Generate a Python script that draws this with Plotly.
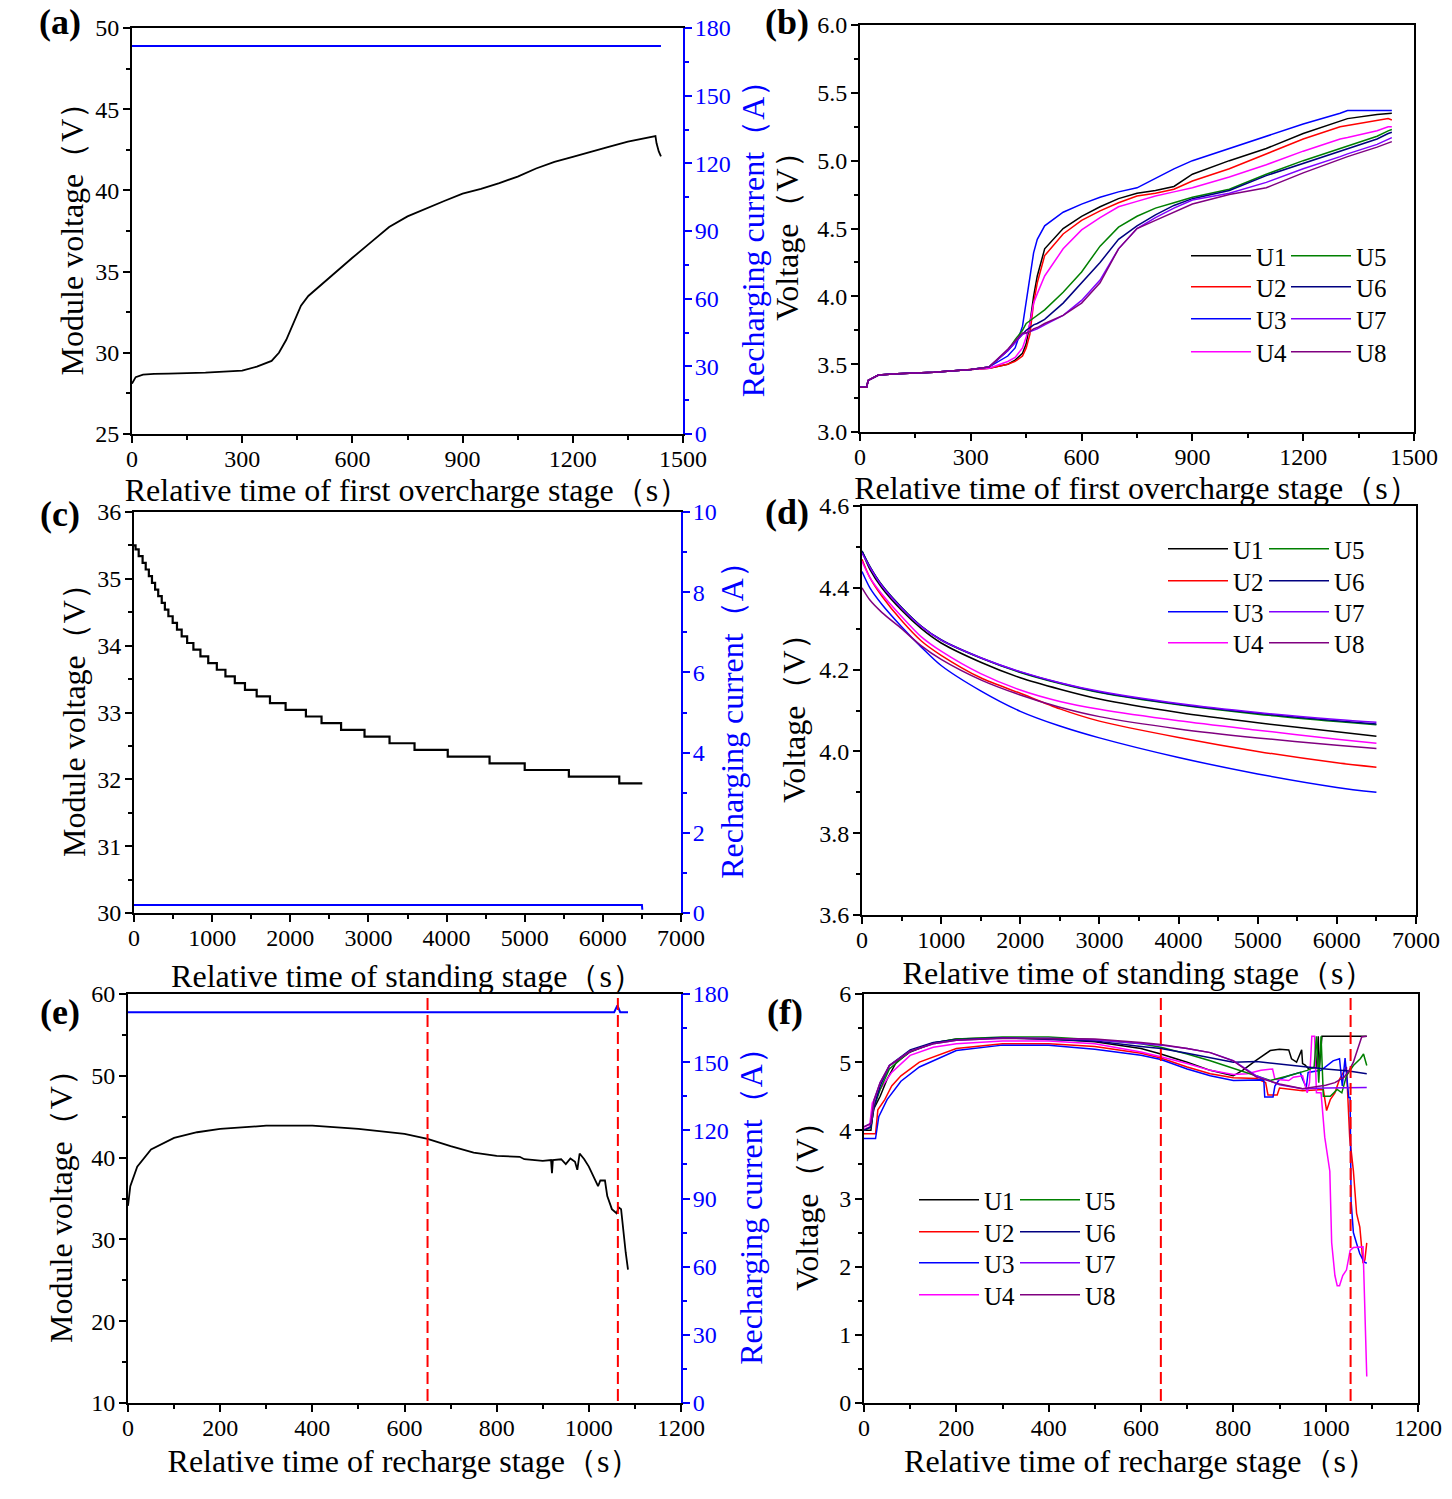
import plotly.graph_objects as go

W, H = 1452, 1499
SERIF = "Liberation Serif"

# ---------------- data ----------------
cell_names = ["U1", "U2", "U3", "U4", "U5", "U6", "U7", "U8"]
cell_colors = ["#000000", "#FF0000", "#0000FF", "#FF00FF", "#008000", "#000080", "#8000FF", "#800080"]

# (a) first overcharge stage - module
a_time = [0, 10, 30, 60, 100, 200, 300, 340, 380, 400, 420, 440, 460, 480, 520, 560, 600, 650, 700, 750,
          800, 850, 900, 950, 1000, 1050, 1100, 1150, 1200, 1250, 1300, 1350, 1400, 1425, 1428, 1434, 1440]
a_voltage = [28.1, 28.5, 28.65, 28.7, 28.72, 28.78, 28.9, 29.15, 29.5, 30.0, 30.8, 31.9, 32.9, 33.5, 34.3, 35.1,
             35.85, 36.8, 37.75, 38.4, 38.9, 39.35, 39.8, 40.1, 40.45, 40.85, 41.35, 41.75, 42.06, 42.4, 42.7,
             43.0, 43.25, 43.35, 42.9, 42.4, 42.1]
a_current_time = [0, 300, 600, 900, 1200, 1440]
a_current = [172, 172, 172, 172, 172, 172]

# (b) first overcharge stage - cells
b_time = [0, 18, 22, 50, 100, 200, 300, 350, 400, 420, 440, 450, 460, 470, 480, 500, 550, 600, 650, 700,
          750, 800, 850, 900, 1000, 1100, 1200, 1300, 1320, 1400, 1430, 1440]
b_U1 = [3.33, 3.33, 3.38, 3.42, 3.43, 3.44, 3.46, 3.47, 3.50, 3.53, 3.58, 3.65, 3.80, 4.00, 4.15, 4.35, 4.50,
        4.59, 4.66, 4.72, 4.76, 4.78, 4.81, 4.90, 5.00, 5.09, 5.20, 5.29, 5.31, 5.34, 5.35, 5.35]
b_U2 = [3.33, 3.33, 3.38, 3.42, 3.43, 3.44, 3.46, 3.47, 3.50, 3.52, 3.56, 3.62, 3.72, 3.95, 4.10, 4.30, 4.46,
        4.56, 4.63, 4.69, 4.74, 4.76, 4.79, 4.85, 4.94, 5.05, 5.16, 5.25, 5.26, 5.30, 5.31, 5.30]
b_U3 = [3.33, 3.33, 3.38, 3.42, 3.43, 3.44, 3.46, 3.48, 3.56, 3.62, 3.78, 3.95, 4.15, 4.32, 4.42, 4.52, 4.62,
        4.68, 4.73, 4.77, 4.80, 4.87, 4.94, 5.00, 5.09, 5.18, 5.27, 5.35, 5.37, 5.37, 5.37, 5.37]
b_U4 = [3.33, 3.33, 3.38, 3.42, 3.43, 3.44, 3.46, 3.47, 3.52, 3.55, 3.62, 3.70, 3.80, 3.95, 4.02, 4.15, 4.35,
        4.49, 4.58, 4.66, 4.70, 4.74, 4.77, 4.80, 4.88, 4.97, 5.07, 5.16, 5.17, 5.22, 5.25, 5.25]
b_U5 = [3.33, 3.33, 3.38, 3.42, 3.43, 3.44, 3.46, 3.48, 3.60, 3.68, 3.75, 3.80, 3.82, 3.84, 3.86, 3.90, 4.03,
        4.18, 4.37, 4.51, 4.59, 4.65, 4.69, 4.73, 4.79, 4.90, 5.00, 5.09, 5.11, 5.18, 5.22, 5.23]
b_U6 = [3.33, 3.33, 3.38, 3.42, 3.43, 3.44, 3.46, 3.48, 3.60, 3.66, 3.72, 3.75, 3.77, 3.79, 3.80, 3.83, 3.95,
        4.10, 4.25, 4.42, 4.52, 4.60, 4.67, 4.72, 4.78, 4.89, 4.98, 5.07, 5.09, 5.16, 5.20, 5.21]
b_U7 = [3.33, 3.33, 3.38, 3.42, 3.43, 3.44, 3.46, 3.48, 3.60, 3.66, 3.72, 3.73, 3.74, 3.75, 3.76, 3.79, 3.86,
        3.97, 4.12, 4.35, 4.50, 4.58, 4.65, 4.71, 4.76, 4.84, 4.94, 5.03, 5.05, 5.12, 5.16, 5.17]
b_U8 = [3.33, 3.33, 3.38, 3.42, 3.43, 3.44, 3.46, 3.48, 3.61, 3.67, 3.73, 3.73, 3.74, 3.76, 3.77, 3.80, 3.86,
        3.95, 4.10, 4.35, 4.50, 4.56, 4.62, 4.68, 4.75, 4.80, 4.91, 5.01, 5.03, 5.10, 5.13, 5.14]

# (c) standing stage - module (stepped)
c_time = [0, 20, 60, 110, 150, 190, 230, 270, 310, 355, 395, 440, 495, 550, 610, 680, 760, 850, 950, 1060,
          1170, 1290, 1420, 1570, 1740, 1940, 2200, 2400, 2650, 2950, 3270, 3590, 4015, 4550, 5000, 5565,
          6210, 6505]
c_voltage = [35.50, 35.44, 35.34, 35.24, 35.14, 35.04, 34.94, 34.84, 34.74, 34.64, 34.54, 34.44, 34.34, 34.24,
             34.14, 34.04, 33.94, 33.84, 33.74, 33.64, 33.54, 33.44, 33.34, 33.24, 33.14, 33.04, 32.94, 32.84,
             32.74, 32.64, 32.54, 32.44, 32.34, 32.24, 32.14, 32.04, 31.94, 31.94]
c_current_time = [0, 2000, 4000, 6000, 6500, 6505]
c_current = [0.2, 0.2, 0.2, 0.2, 0.2, 0.08]

# (d) standing stage - cells
d_time = [0, 100, 250, 500, 750, 1000, 1500, 2000, 2500, 3000, 4000, 5000, 6000, 6500]
d_U1 = [4.49, 4.445, 4.40, 4.345, 4.30, 4.265, 4.218, 4.180, 4.152, 4.128, 4.095, 4.070, 4.048, 4.037]
d_U2 = [4.47, 4.425, 4.38, 4.32, 4.27, 4.235, 4.180, 4.142, 4.104, 4.074, 4.034, 4.000, 3.972, 3.961]
d_U3 = [4.44, 4.40, 4.36, 4.305, 4.255, 4.21, 4.148, 4.098, 4.062, 4.033, 3.985, 3.945, 3.912, 3.900]
d_U4 = [4.465, 4.425, 4.385, 4.33, 4.28, 4.245, 4.19, 4.150, 4.122, 4.103, 4.075, 4.052, 4.030, 4.020]
d_U5 = [4.49, 4.452, 4.407, 4.352, 4.306, 4.272, 4.228, 4.193, 4.166, 4.144, 4.114, 4.091, 4.073, 4.065]
d_U6 = [4.49, 4.452, 4.407, 4.352, 4.306, 4.273, 4.229, 4.194, 4.167, 4.145, 4.115, 4.093, 4.075, 4.067]
d_U7 = [4.485, 4.45, 4.405, 4.35, 4.305, 4.272, 4.229, 4.195, 4.168, 4.147, 4.117, 4.095, 4.078, 4.071]
d_U8 = [4.40, 4.37, 4.34, 4.30, 4.258, 4.225, 4.175, 4.138, 4.108, 4.085, 4.055, 4.033, 4.015, 4.007]

# (e) recharge stage - module
e_time = [0, 5, 20, 50, 100, 150, 200, 300, 400, 500, 600, 650, 700, 750, 800, 850, 860, 900, 918, 920,
          922, 940, 950, 960, 970, 975, 980, 990, 1000, 1010, 1020, 1025, 1035, 1040, 1050, 1060, 1065, 1070,
          1075, 1080, 1085]
e_voltage = [34.1, 36.5, 38.9, 41.0, 42.4, 43.1, 43.5, 43.9, 43.9, 43.5, 42.9, 42.3, 41.4, 40.6, 40.2, 40.1,
             39.8, 39.6, 39.7, 38.1, 39.7, 39.8, 39.2, 39.9, 39.5, 38.5, 40.5, 39.8, 38.9, 37.7, 36.5, 37.2,
             37.2, 35.3, 33.7, 33.2, 33.9, 33.7, 30.8, 28.4, 26.3]
e_current_time = [0, 200, 400, 600, 800, 1000, 1055, 1062, 1068, 1075, 1085]
e_current = [172, 172, 172, 172, 172, 172, 172, 175, 172, 172, 172]
e_boundaries = [650, 1063]

# (f) recharge stage - cells
f_U1_t = [0, 15, 20, 35, 50, 70, 100, 150, 200, 300, 400, 500, 600, 643, 700, 750, 800, 820, 850, 880, 900,
          920, 926, 937, 948, 950, 955, 962, 980, 984, 986, 992, 1089]
f_U1_v = [4.00, 4.00, 4.30, 4.50, 4.75, 5.00, 5.15, 5.28, 5.34, 5.36, 5.34, 5.30, 5.20, 5.12, 5.00, 4.88, 4.80,
          4.88, 5.03, 5.17, 5.19, 5.18, 5.05, 5.00, 5.18, 4.98, 4.96, 4.91, 4.92, 5.38, 4.90, 5.38, 5.38]
f_U2_t = [0, 25, 30, 45, 60, 80, 120, 200, 300, 400, 500, 600, 643, 700, 750, 800, 850, 870, 875, 895, 900,
          950, 995, 1002, 1010, 1020, 1030, 1045, 1052, 1060, 1067, 1074, 1081, 1085, 1089]
f_U2_v = [3.95, 3.95, 4.30, 4.45, 4.65, 4.80, 5.00, 5.20, 5.27, 5.27, 5.23, 5.13, 5.06, 4.93, 4.83, 4.77, 4.76,
          4.70, 4.52, 4.52, 4.62, 4.58, 4.60, 4.29, 4.45, 4.55, 4.75, 4.93, 3.90, 3.41, 2.78, 2.58, 2.05, 2.10,
          2.35]
f_U3_t = [0, 25, 32, 50, 80, 120, 200, 300, 400, 500, 600, 643, 700, 750, 800, 850, 866, 868, 886, 890, 900,
          920, 945, 950, 958, 962, 990, 1016, 1030, 1036, 1042, 1050, 1053, 1055, 1060, 1067, 1074, 1083, 1089]
f_U3_v = [3.88, 3.88, 4.20, 4.45, 4.72, 4.93, 5.17, 5.25, 5.25, 5.19, 5.10, 5.04, 4.90, 4.80, 4.73, 4.73, 4.74,
          4.49, 4.49, 4.65, 4.75, 4.80, 4.85, 4.75, 4.63, 4.85, 4.88, 5.02, 5.05, 4.65, 5.06, 4.48, 4.48, 2.97,
          2.50, 2.34, 2.19, 2.07, 2.05]
f_U4_t = [0, 12, 18, 35, 60, 100, 150, 200, 300, 400, 500, 600, 643, 700, 750, 800, 830, 860, 885, 890, 920,
          930, 950, 955, 960, 965, 970, 976, 980, 990, 998, 1009, 1013, 1020, 1025, 1030, 1037, 1045, 1053,
          1060, 1081, 1089]
f_U4_v = [4.02, 4.05, 4.40, 4.60, 4.85, 5.10, 5.22, 5.27, 5.31, 5.31, 5.27, 5.15, 5.08, 4.98, 4.88, 4.82, 4.83,
          4.88, 4.90, 4.75, 4.73, 4.78, 4.80, 4.65, 4.55, 4.70, 5.38, 5.38, 4.55, 4.55, 3.90, 3.40, 2.35, 1.87,
          1.72, 1.72, 1.87, 1.95, 2.24, 2.28, 2.29, 0.39]
f_U5_t = [0, 15, 22, 35, 55, 100, 150, 200, 300, 400, 500, 600, 643, 700, 750, 800, 850, 880, 920, 960, 975,
          980, 985, 990, 995, 1010, 1025, 1035, 1045, 1060, 1075, 1082, 1089]
f_U5_v = [4.00, 4.05, 4.35, 4.60, 4.90, 5.16, 5.28, 5.34, 5.37, 5.37, 5.33, 5.27, 5.22, 5.12, 5.02, 4.91, 4.80,
          4.73, 4.80, 4.88, 4.93, 5.38, 4.70, 5.38, 4.50, 4.50, 4.60, 4.55, 4.80, 4.95, 5.05, 5.12, 4.95]
f_U6_t = [0, 15, 22, 35, 55, 100, 150, 200, 300, 400, 500, 600, 643, 700, 750, 800, 850, 900, 950, 1000,
          1050, 1089]
f_U6_v = [4.00, 4.05, 4.35, 4.65, 4.95, 5.18, 5.29, 5.33, 5.36, 5.34, 5.31, 5.23, 5.20, 5.13, 5.07, 5.00, 5.01,
          4.97, 4.93, 4.90, 4.87, 4.83]
f_U7_t = [0, 15, 22, 35, 55, 100, 150, 200, 300, 400, 500, 600, 643, 700, 750, 800, 850, 900, 950, 1000,
          1050, 1089]
f_U7_v = [4.05, 4.10, 4.45, 4.70, 4.95, 5.16, 5.27, 5.32, 5.35, 5.35, 5.33, 5.28, 5.25, 5.20, 5.14, 5.02, 4.80,
          4.67, 4.61, 4.62, 4.63, 4.63]
f_U8_t = [0, 15, 22, 35, 55, 100, 150, 200, 300, 400, 500, 600, 643, 700, 750, 800, 850, 900, 950, 1000,
          1020, 1040, 1050, 1060, 1070, 1078, 1089]
f_U8_v = [4.05, 4.10, 4.45, 4.70, 4.95, 5.16, 5.27, 5.32, 5.35, 5.35, 5.34, 5.29, 5.26, 5.20, 5.14, 5.02, 4.78,
          4.68, 4.61, 4.66, 4.70, 4.78, 4.87, 5.00, 5.20, 5.37, 5.38]
f_boundaries = [643, 1054]

# ---------------- helpers ----------------
def xdom(l, r):
    return [l / W, r / W]


def ydom(t, b):
    return [1 - b / H, 1 - t / H]


TICKFONT = dict(family=SERIF, size=24, color="black")
TITLEFONT = dict(family=SERIF, size=32, color="black")
BLUE = "#0000FF"


def base_axis(rng, dtick, minor_dtick, title, standoff, color="black", lab_standoff=-5, **kw):
    d = dict(
        range=rng, dtick=dtick, tick0=rng[0], showline=True, linecolor=color, linewidth=2,
        ticks="outside", ticklen=7, tickwidth=1.5, tickcolor=color, showgrid=False, zeroline=False,
        automargin=False, ticklabelstandoff=lab_standoff,
        tickfont=dict(TICKFONT, color=color),
        minor=dict(ticks="outside", ticklen=4, tickwidth=1.5, tickcolor=color, dtick=minor_dtick,
                   tick0=rng[0], showgrid=False),
        title=dict(text=title, font=dict(TITLEFONT, color=color), standoff=standoff),
    )
    d.update(kw)
    return d


fig = go.Figure()

# (a)
fig.add_trace(go.Scatter(x=a_time, y=a_voltage, mode="lines", line=dict(color="black", width=1.8),
                         xaxis="x", yaxis="y", showlegend=False, name="Module voltage"))
fig.add_trace(go.Scatter(x=a_current_time, y=a_current, mode="lines", line=dict(color=BLUE, width=2),
                         xaxis="x", yaxis="y7", showlegend=False, name="Recharging current"))


# legend rows: row k holds U(k) and U(k+4)
def row_legend(panel_idx, i):
    idx = panel_idx * 4 + (i % 4) + 1
    return "legend" if idx == 1 else "legend%d" % idx


# (b)
b_cells = [b_U1, b_U2, b_U3, b_U4, b_U5, b_U6, b_U7, b_U8]
for i, vals in enumerate(b_cells):
    fig.add_trace(go.Scatter(x=b_time, y=vals, mode="lines", name=cell_names[i],
                             line=dict(color=cell_colors[i], width=1.5),
                             xaxis="x2", yaxis="y2", legend=row_legend(0, i)))

# (c)
fig.add_trace(go.Scatter(x=c_time, y=c_voltage, mode="lines", line=dict(color="black", width=2.2, shape="hv"),
                         xaxis="x3", yaxis="y3", showlegend=False, name="Module voltage"))
fig.add_trace(go.Scatter(x=c_current_time, y=c_current, mode="lines", line=dict(color=BLUE, width=2),
                         xaxis="x3", yaxis="y8", showlegend=False, name="Recharging current"))

# (d)
d_cells = [d_U1, d_U2, d_U3, d_U4, d_U5, d_U6, d_U7, d_U8]
for i, vals in enumerate(d_cells):
    fig.add_trace(go.Scatter(x=d_time, y=vals, mode="lines", name=cell_names[i],
                             line=dict(color=cell_colors[i], width=1.5, shape="spline", smoothing=0.8),
                             xaxis="x4", yaxis="y4", legend=row_legend(1, i)))

# (e)
fig.add_trace(go.Scatter(x=e_time, y=e_voltage, mode="lines", line=dict(color="black", width=1.8),
                         xaxis="x5", yaxis="y5", showlegend=False, name="Module voltage"))
fig.add_trace(go.Scatter(x=e_current_time, y=e_current, mode="lines", line=dict(color=BLUE, width=2),
                         xaxis="x5", yaxis="y9", showlegend=False, name="Recharging current"))

# (f)
f_cells = [(f_U1_t, f_U1_v), (f_U2_t, f_U2_v), (f_U3_t, f_U3_v), (f_U4_t, f_U4_v),
           (f_U5_t, f_U5_v), (f_U6_t, f_U6_v), (f_U7_t, f_U7_v), (f_U8_t, f_U8_v)]
for i, (tt, vv) in enumerate(f_cells):
    fig.add_trace(go.Scatter(x=tt, y=vv, mode="lines", name=cell_names[i],
                             line=dict(color=cell_colors[i], width=1.5),
                             xaxis="x6", yaxis="y6", legend=row_legend(2, i)))

# stage boundaries (red dashed)
shapes = []
for b in e_boundaries:
    shapes.append(dict(type="line", xref="x5", yref="y5 domain", x0=b, x1=b, y0=0.005, y1=1,
                       line=dict(color="red", width=2, dash="12px,5px")))
for b in f_boundaries:
    shapes.append(dict(type="line", xref="x6", yref="y6 domain", x0=b, x1=b, y0=0.005, y1=1,
                       line=dict(color="red", width=2, dash="12px,5px")))

T1 = "Relative time of first overcharge stage（s）"
T2 = "Relative time of standing stage（s）"
T3 = "Relative time of recharge stage（s）"
MV = "Module voltage（V）"
RC = "Recharging current（A）"
VV = "Voltage（V）"

YL = -1  # left y tick label standoff

layout = dict(
    width=W, height=H, margin=dict(l=0, r=0, t=0, b=0, autoexpand=False),
    paper_bgcolor="white", plot_bgcolor="white",
    font=dict(family=SERIF, color="black"),
    shapes=shapes,
    # (a)
    xaxis=base_axis([0, 1500], 300, 150, T1, 5, domain=xdom(132, 683), anchor="y", mirror=True),
    yaxis=base_axis([25, 50], 5, 2.5, MV, 2, lab_standoff=YL, domain=ydom(28, 434), anchor="x"),
    yaxis7=base_axis([0, 180], 30, 15, RC, 12, color=BLUE, lab_standoff=-2, overlaying="y", anchor="x",
                     side="right"),
    # (b)
    xaxis2=base_axis([0, 1500], 300, 150, T1, 8, domain=xdom(860, 1414), anchor="y2", mirror=True),
    yaxis2=base_axis([3.0, 6.0], 0.5, 0.25, VV, 9, lab_standoff=YL, domain=ydom(25, 432), anchor="x2",
                     mirror=True, tickformat=".1f"),
    # (c)
    xaxis3=base_axis([0, 7000], 1000, 500, T2, 15, domain=xdom(134, 681), anchor="y3", mirror=True),
    yaxis3=base_axis([30, 36], 1, 0.5, MV, 2, lab_standoff=YL, domain=ydom(512, 913), anchor="x3"),
    yaxis8=base_axis([0, 10], 2, 1, RC, 5, color=BLUE, lab_standoff=-2, overlaying="y3", anchor="x3",
                     side="right"),
    # (d)
    xaxis4=base_axis([0, 7000], 1000, 500, T2, 10, domain=xdom(862, 1416), anchor="y4", mirror=True),
    yaxis4=base_axis([3.6, 4.6], 0.2, 0.1, VV, 4, lab_standoff=YL, domain=ydom(506, 915), anchor="x4",
                     mirror=True, tickformat=".1f"),
    # (e)
    xaxis5=base_axis([0, 1200], 200, 100, T3, 10, domain=xdom(128, 681), anchor="y5", mirror=True),
    yaxis5=base_axis([10, 60], 10, 5, MV, 9, lab_standoff=YL, domain=ydom(994, 1403), anchor="x5"),
    yaxis9=base_axis([0, 180], 30, 15, RC, 12, color=BLUE, lab_standoff=-2, overlaying="y5", anchor="x5",
                     side="right"),
    # (f)
    xaxis6=base_axis([0, 1200], 200, 100, T3, 10, domain=xdom(864, 1418), anchor="y6", mirror=True),
    yaxis6=base_axis([0, 6], 1, 0.5, VV, 11, lab_standoff=YL, domain=ydom(994, 1403), anchor="x6",
                     mirror=True),
)

LEGFONT = dict(family=SERIF, size=25, color="black")


def leg(xpx, ypx, ew):
    return dict(x=xpx / W, y=1 - ypx / H, xanchor="left", yanchor="middle", font=LEGFONT,
                bgcolor="rgba(0,0,0,0)", borderwidth=0, tracegroupgap=0, itemwidth=60,
                orientation="h", entrywidth=ew, entrywidthmode="pixels")


# legend rows: (legend left px, row centres px, entry width px)
legend_rows = [
    (1186, [256, 287, 319, 352], 25),
    (1163, [549, 581, 612, 643], 26),
    (914, [1200, 1232, 1263, 1295], 26),
]
for p, (lx, rows, ew) in enumerate(legend_rows):
    for k, ry in enumerate(rows):
        idx = p * 4 + k + 1
        key = "legend" if idx == 1 else "legend%d" % idx
        layout[key] = leg(lx, ry, ew)

panel_labels = [("(a)", 60, 22), ("(b)", 787, 22), ("(c)", 60, 514),
                ("(d)", 787, 512), ("(e)", 60, 1012), ("(f)", 785, 1012)]
annotations = []
for txt, px, py in panel_labels:
    annotations.append(dict(text="<b>" + txt + "</b>", xref="paper", yref="paper", x=px / W, y=1 - py / H,
                            xanchor="center", yanchor="middle", showarrow=False,
                            font=dict(family=SERIF, size=36, color="black")))
layout["annotations"] = annotations

fig.update_layout(**layout)
fig.write_html("out.html")
